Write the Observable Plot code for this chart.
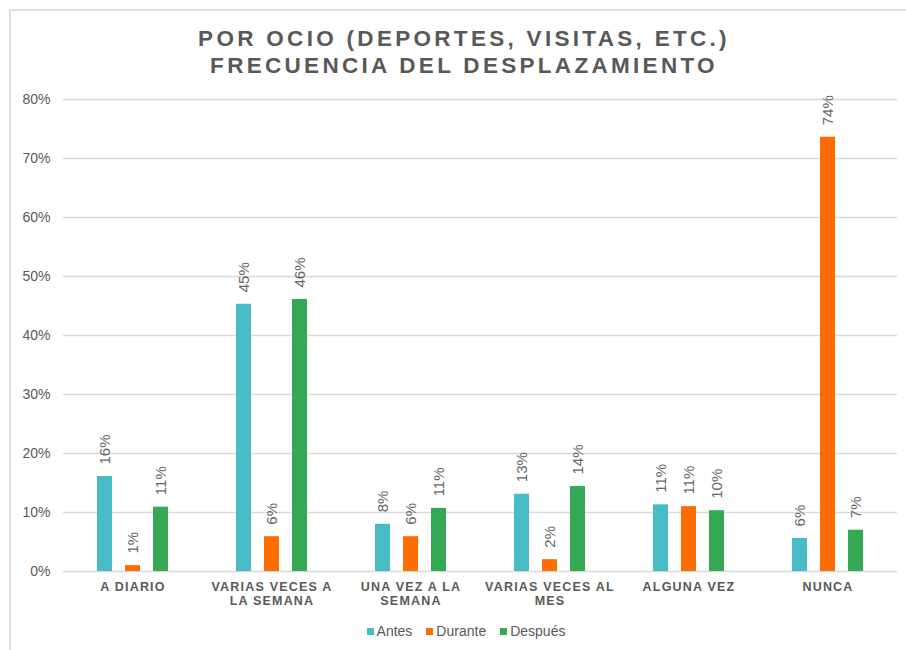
<!DOCTYPE html>
<html>
<head>
<meta charset="utf-8">
<script src="https://cdn.jsdelivr.net/npm/d3@7"></script>
<script src="https://cdn.jsdelivr.net/npm/@observablehq/plot@0.6"></script>
<style>
  html, body { margin: 0; padding: 0; background: #fff; overflow: hidden; }
  #wrap { position: relative; width: 906px; height: 650px; font-family: "Liberation Sans", Arial, sans-serif; }
  #frame { position: absolute; left: 9px; top: 9px; width: 2000px; height: 2000px; border-left: 2px solid #dedede; border-top: 2px solid #dedede; pointer-events: none; }
  #title { height: 88px; box-sizing: border-box; padding-top: 24.5px; text-align: center; color: #595959; font-weight: bold; font-size: 22.5px; line-height: 27.7px; letter-spacing: 3.3px; padding-left: 22px; }
  #legend { height: 38px; display: flex; justify-content: center; align-items: center; font-size: 14px; color: #595959; padding-left: 26px; }
  #legend .item { display: flex; align-items: center; margin: 0 7px; }
  #legend .sw { width: 7px; height: 7px; margin-right: 3px; }
  g[aria-label="fx-axis tick label"] text { letter-spacing: 1.2px; }
</style>
</head>
<body>
<div id="wrap">
  <div id="frame"></div>
  <div id="title">POR OCIO (DEPORTES, VISITAS, ETC.)<br>FRECUENCIA DEL DESPLAZAMIENTO</div>
  <div id="chart"></div>
  <div id="legend"></div>
</div>
<script>
const categories = ["A DIARIO", "VARIAS VECES A LA SEMANA", "UNA VEZ A LA SEMANA", "VARIAS VECES AL MES", "ALGUNA VEZ", "NUNCA"];
const categoryLabels = ["A DIARIO", "VARIAS VECES A\nLA SEMANA", "UNA VEZ A LA\nSEMANA", "VARIAS VECES AL\nMES", "ALGUNA VEZ", "NUNCA"];
const series = ["Antes", "Durante", "Después"];
const antes   = [16.1, 45.3, 8.0, 13.1, 11.3, 5.6];
const durante = [1.0, 5.9, 5.9, 2.0, 11.0, 73.6];
const despues = [10.9, 46.1, 10.7, 14.4, 10.3, 7.0];
const colors = ["#47BCC7", "#FF6D00", "#34A853"];
const yTicks = [0, 10, 20, 30, 40, 50, 60, 70, 80];

const seriesValues = [antes, durante, despues];
const data = [];
categories.forEach((c, i) => {
  series.forEach((s, j) => data.push({cat: c, series: s, value: seriesValues[j][i]}));
});
const labelOf = new Map(categories.map((c, i) => [c, categoryLabels[i]]));

const chart = Plot.plot({
  width: 906,
  height: 524,
  marginTop: 11,
  marginBottom: 41,
  marginLeft: 60,
  marginRight: 7,
  style: {fontFamily: '"Liberation Sans", Arial, sans-serif', background: "transparent"},
  fx: {domain: categories, padding: 0, axis: null},
  x: {domain: series, paddingInner: 0.474, paddingOuter: 1.193, axis: null},
  y: {domain: [0, 80], axis: null},
  color: {domain: series, range: colors},
  marks: [
    Plot.gridY(yTicks, {stroke: "#d9d9d9", strokeOpacity: 1, strokeWidth: 1.3}),
    Plot.axisY(yTicks, {tickSize: 0, tickPadding: 13, tickFormat: d => d + "%", fontSize: 14, fill: "#595959", label: null}),
    Plot.axisFx({anchor: "bottom", tickSize: 0, tickPadding: 9, label: null, tickFormat: d => labelOf.get(d), fontSize: 12.5, fontWeight: "bold", fill: "#595959", lineHeight: 1.15}),
    Plot.barY(data, {fx: "cat", x: "series", y: "value", fill: "series"}),
    Plot.text(data, {fx: "cat", x: "series", y: "value", text: d => Math.round(d.value) + "%", rotate: -90, textAnchor: "start", dy: -12, fontSize: 15, fill: "#666666"})
  ]
});
document.getElementById("chart").appendChild(chart);

const legend = document.getElementById("legend");
series.forEach((s, i) => {
  const item = document.createElement("div");
  item.className = "item";
  const sw = document.createElement("span");
  sw.className = "sw";
  sw.style.background = colors[i];
  const t = document.createElement("span");
  t.textContent = s;
  item.appendChild(sw);
  item.appendChild(t);
  legend.appendChild(item);
});
</script>
</body>
</html>
